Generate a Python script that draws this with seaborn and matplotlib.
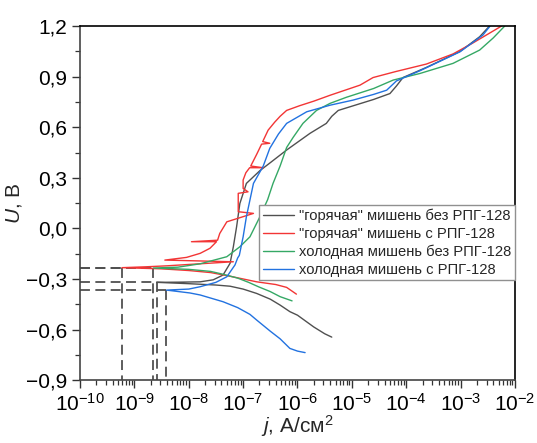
import numpy as np
import pandas as pd
import seaborn as sb
import matplotlib
matplotlib.use('Agg')
import matplotlib.pyplot as plt
from matplotlib.ticker import FixedLocator, FuncFormatter, LogLocator, NullFormatter

# ##############################################################################
# data: log10(j, A/cm2) and U, V
# each curve runs cathodic end -> corrosion potential -> anodic end
hot_no_logj = [-5.37, -5.5, -5.7, -6.0, -6.14, -6.32, -6.5, -6.75, -7.0, -7.24, -7.5, -8.0, -8.59,
               -8.2, -7.79, -7.55, -7.37, -7.24, -7.18, -7.12, -7.06, -6.94, -6.69, -6.5, -6.2,
               -5.77, -5.47, -5.37, -5.25, -5.0, -4.6, -4.30, -4.18, -4.06, -3.63, -3.01, -2.65, -2.47]
hot_no_u = [-0.645, -0.625, -0.585, -0.515, -0.494, -0.455, -0.42, -0.386, -0.36, -0.343, -0.336, -0.328, -0.32,
            -0.319, -0.317, -0.305, -0.277, -0.207, -0.109, 0.01, 0.148, 0.267, 0.343, 0.39, 0.465,
            0.564, 0.623, 0.665, 0.70, 0.725, 0.765, 0.80, 0.845, 0.895, 0.955, 1.05, 1.137, 1.2]

hot_rpg_logj = [-6.02, -6.2, -6.4, -6.75, -7.0, -7.3, -7.6, -8.0, -8.5, -9.23,
                -8.8, -8.4, -7.9, -7.18, -8.44, -8.04, -7.79, -7.61, -7.49, -7.95, -7.47, -7.43, -7.30,
                -6.81, -7.09, -7.09, -6.91, -7.0, -7.0, -6.95, -6.88, -6.63, -6.86, -6.75, -6.66,
                -6.51, -6.64, -6.54, -6.42, -6.32, -6.20, -5.96, -5.70, -5.40, -4.85, -4.61, -4.2,
                -3.63, -3.14, -2.79, -2.25]
hot_rpg_u = [-0.39, -0.35, -0.333, -0.317, -0.30, -0.28, -0.262, -0.25, -0.24, -0.233,
             -0.228, -0.222, -0.212, -0.198, -0.188, -0.172, -0.148, -0.118, -0.079, -0.079, -0.07, -0.03, 0.039,
             0.089, 0.099, 0.208, 0.217, 0.237, 0.287, 0.33, 0.36, 0.36, 0.37, 0.44, 0.50,
             0.505, 0.515, 0.583, 0.63, 0.665, 0.70, 0.728, 0.755, 0.79, 0.85, 0.895, 0.93,
             0.975, 1.035, 1.097, 1.2]

cold_no_logj = [-6.10, -6.32, -6.5, -6.72, -6.9, -7.1, -7.37, -7.6, -8.0, -8.65,
                -8.2, -7.79, -7.30, -7.06, -6.875, -6.69, -6.55, -6.45, -6.32, -6.20, -6.08, -5.90,
                -5.65, -5.40, -5.10, -4.6, -4.24, -3.75, -3.14, -2.65, -2.40, -2.19]
cold_no_u = [-0.43, -0.405, -0.375, -0.346, -0.32, -0.295, -0.272, -0.255, -0.243, -0.235,
             -0.23, -0.21, -0.168, -0.109, -0.05, 0.07, 0.17, 0.267, 0.37, 0.48, 0.54, 0.623,
             0.70, 0.742, 0.778, 0.83, 0.88, 0.919, 0.979, 1.058, 1.13, 1.2]

cold_rpg_logj = [-5.86, -6.0, -6.14, -6.32, -6.5, -6.75, -6.875, -7.1, -7.37, -7.79, -7.98, -8.41,
                 -8.0, -7.79, -7.5, -7.30, -7.15, -7.1, -7.07, -7.0, -6.94, -6.81, -6.63, -6.51,
                 -6.35, -6.20, -5.83, -5.40, -4.98, -4.60, -4.36, -4.18, -3.75, -3.01, -2.59, -2.46]
cold_rpg_u = [-0.737, -0.728, -0.712, -0.655, -0.61, -0.544, -0.51, -0.47, -0.435, -0.395, -0.383, -0.366,
              -0.36, -0.346, -0.32, -0.287, -0.217, -0.175, -0.16, -0.05, 0.069, 0.267, 0.37, 0.475,
              0.56, 0.623, 0.692, 0.731, 0.761, 0.795, 0.82, 0.875, 0.935, 1.048, 1.147, 1.2]

labels = ['"горячая" мишень без РПГ-128', '"горячая" мишень с РПГ-128',
          'холодная мишень без РПГ-128', 'холодная мишень с РПГ-128']
colors = ['#505050', '#f23535', '#35a865', '#2272e0']

# corrosion potentials / currents (dashed guides)
e_corr = [-0.233, -0.233, -0.32, -0.364]
logj_corr = [-9.23, -8.65, -8.59, -8.41]

y_ticks = [-0.9, -0.6, -0.3, 0.0, 0.3, 0.6, 0.9, 1.2]
x_decades = [-10, -9, -8, -7, -6, -5, -4, -3, -2]

# ##############################################################################
series = [(hot_no_logj, hot_no_u), (hot_rpg_logj, hot_rpg_u),
          (cold_no_logj, cold_no_u), (cold_rpg_logj, cold_rpg_u)]
frames = []
for lab, (lj, u) in zip(labels, series):
  frames.append(pd.DataFrame({'j': 10.0 ** np.array(lj), 'U': u, 'curve': lab}))
df = pd.concat(frames, ignore_index=True)

sb.set_style('ticks')
plt.rcParams['font.family'] = ['Liberation Sans', 'DejaVu Sans']
plt.rcParams['mathtext.fontset'] = 'custom'
plt.rcParams['mathtext.rm'] = 'Liberation Sans'
plt.rcParams['mathtext.it'] = 'Liberation Sans:italic'
plt.rcParams['mathtext.default'] = 'regular'

fig = plt.figure(figsize=(5.37, 4.43), dpi=100)
ax = fig.add_axes([0.149, 0.142, 0.81, 0.799])

# dashed guides first, curves on top
for e, lj in zip(e_corr, logj_corr):
  jc = 10.0 ** lj
  ax.plot([1e-10, jc], [e, e], ls=(0, (5.5, 3)), color='#505050', lw=1.3, zorder=1)
  ax.plot([jc, jc], [e, -0.9], ls=(0, (5.5, 3)), color='#505050', lw=1.3, zorder=1)

g = sb.lineplot(data=df, x='j', y='U', hue='curve', hue_order=labels,
                palette=dict(zip(labels, colors)), sort=False, estimator=None,
                lw=1.0, ax=ax, zorder=2)

ax.set_xscale('log')
ax.set_xlim(1e-10, 1e-2)
ax.set_ylim(-0.9, 1.2)

ax.xaxis.set_major_locator(FixedLocator([10.0 ** d for d in x_decades]))
ax.xaxis.set_major_formatter(FuncFormatter(lambda v, p: r'$10^{%d}$' % round(np.log10(v))))
ax.xaxis.set_minor_locator(LogLocator(base=10, subs=np.arange(2, 10), numticks=20))
ax.xaxis.set_minor_formatter(NullFormatter())
ax.yaxis.set_major_locator(FixedLocator(y_ticks))
ax.yaxis.set_minor_locator(FixedLocator([t + 0.15 for t in y_ticks[:-1]]))
ax.yaxis.set_major_formatter(FuncFormatter(
  lambda v, p: ('%.1f' % v).replace('.', ',').replace('-0,0', '0,0').replace('-', '\u2212')))

ax.tick_params(which='major', direction='out', length=6, width=1.0, labelsize=15, colors='#333333',
               labelcolor='black', top=False, right=False)
ax.tick_params(which='minor', direction='out', length=3.5, width=0.9, colors='#333333')
ax.tick_params(axis='x', pad=3)
for s in ['left', 'bottom']:
  ax.spines[s].set_color('#444444')
  ax.spines[s].set_linewidth(1.2)
for s in ['top', 'right']:
  ax.spines[s].set_color('black')
  ax.spines[s].set_linewidth(1.2)

ax.set_xlabel(r'$\mathit{j}$, A/см$^2$', fontsize=15, labelpad=-1)
ax.set_ylabel(r'$\mathit{U}$, B', fontsize=15, labelpad=1)

leg = ax.legend(loc='upper right', bbox_to_anchor=(1.0, 0.494), fontsize=10.6,
                frameon=True, fancybox=False, edgecolor='#909090', framealpha=1,
                borderaxespad=0, borderpad=0.25, handlelength=2.1, handletextpad=0.35,
                labelspacing=0.25)
leg.get_frame().set_linewidth(1.0)

fig.savefig('out.png', dpi=100)
plt.close('all')
